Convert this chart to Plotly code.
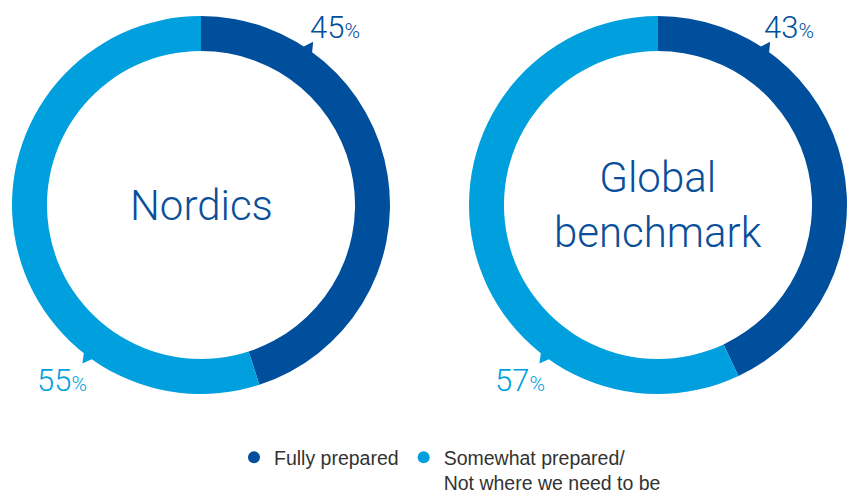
import math
import plotly.graph_objects as go

W, H = 848, 493

# ---- data ----
categories = ["Fully prepared", "Somewhat prepared/<br>Not where we need to be"]
regions = ["Nordics", "Global<br>benchmark"]
nordics_values = [45, 55]
global_values = [43, 57]
label_texts = [["45", "55"], ["43", "57"]]

DARK = "#004f9c"
LIGHT = "#009fdd"
colors = [DARK, LIGHT]

CF = "Roboto, DejaVu Sans Condensed, sans-serif"

# geometry (pixels)
centers = [(201, 205), (658, 205)]
R = 189
HOLE = 0.815


def px(x):
    return x / W


def py(y):
    return 1 - y / H


fig = go.Figure()

for (cx, cy), vals in zip(centers, [nordics_values, global_values]):
    fig.add_trace(go.Pie(
        values=vals, labels=categories, sort=False, direction="clockwise",
        rotation=0, hole=HOLE, marker=dict(colors=colors, line=dict(width=0)),
        textinfo="none", hoverinfo="label+percent", showlegend=False,
        domain=dict(x=[px(cx - R), px(cx + R)], y=[py(cy + R), py(cy - R)]),
    ))

# legend via dummy scatter traces (circle markers)
for name, c in zip(categories, colors):
    fig.add_trace(go.Scatter(x=[None], y=[None], mode="markers", name=name,
                             marker=dict(color=c, size=15, symbol="circle")))

annotations = []
shapes = []
# center titles
for (cx, cy), t in zip(centers, regions):
    annotations.append(dict(x=px(cx), y=py(cy), xref="paper", yref="paper",
                            text=t, showarrow=False, xanchor="center", yanchor="middle",
                            font=dict(family=CF, size=42, weight=300, color="#0a4f9a")))


def polar(cx, cy, ang, r):
    a = math.radians(ang)
    return cx + r * math.sin(a), cy - r * math.cos(a)


# percent labels with callout spikes
label_pos = [[(335, 28, 34.5), (62, 380, 216.8)], [(789, 28, 34.5), (520, 380, 216.8)]]
for i, (cx, cy) in enumerate(centers):
    for j in range(2):
        lx, ly, ang = label_pos[i][j]
        col = colors[j]
        annotations.append(dict(
            x=px(lx), y=py(ly), xref="paper", yref="paper", showarrow=False,
            xanchor="center", yanchor="middle",
            text=label_texts[i][j] + "<span style='font-size:21px'>%</span>",
            font=dict(family=CF, size=31, weight=300, color=col)))
        p1 = polar(cx, cy, ang - 1.7, R - 1)
        p2 = polar(cx, cy, ang + 1.7, R - 1)
        p3 = polar(cx, cy, ang, R + 9)
        path = "M {} {} L {} {} L {} {} Z".format(
            px(p1[0]), py(p1[1]), px(p2[0]), py(p2[1]), px(p3[0]), py(p3[1]))
        shapes.append(dict(type="path", path=path, xref="paper", yref="paper",
                           fillcolor=col, line=dict(width=0)))

fig.update_layout(
    width=W, height=H, margin=dict(l=0, r=0, t=0, b=0, pad=0, autoexpand=False),
    paper_bgcolor="white", plot_bgcolor="white",
    xaxis=dict(visible=False), yaxis=dict(visible=False),
    annotations=annotations, shapes=shapes,
    legend=dict(orientation="h", x=px(234), xanchor="left", y=py(438), yanchor="top",
                font=dict(family="Liberation Sans, Arial, sans-serif", size=19.5, color="#333333"),
                itemsizing="constant", valign="top", bgcolor="rgba(0,0,0,0)",
                tracegroupgap=0),
)

fig.write_html("out.html", config={"displayModeBar": False},
               post_script="document.body.style.margin='0';document.body.style.overflow='hidden';")
